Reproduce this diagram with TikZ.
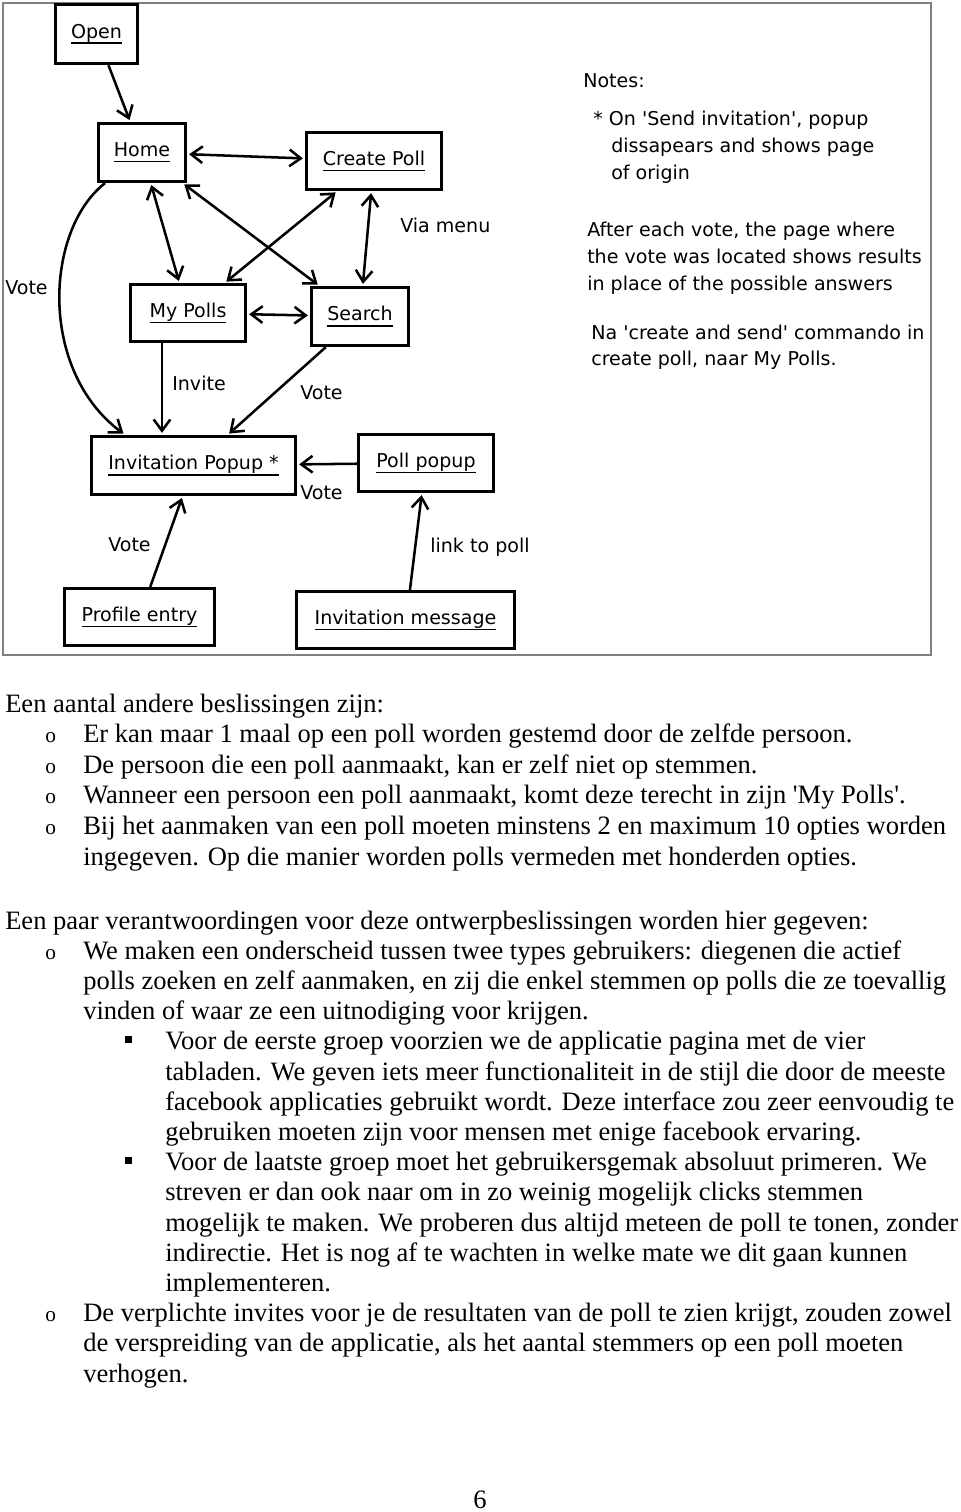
\documentclass[tikz,border=0pt]{standalone}
\usepackage{fontspec}
\setmainfont{Liberation Serif}
\newfontfamily\djv{DejaVu Sans}
\usetikzlibrary{arrows.meta,calc}
\newlength\ulwd
\newcommand\ulx[1]{\settowidth\ulwd{#1}\rlap{\rule[-4.3pt]{\ulwd}{1.1pt}}#1}
\tikzset{
  box/.style 2 args={draw, line width=2.4pt, inner sep=0pt,
    minimum width=#1*0.75pt, minimum height=#2*0.75pt,
    font=\djv\fontsize{14.3}{17}\selectfont},
  lbl/.style={inner sep=0pt, anchor=west, font=\djv\fontsize{14.3}{17}\selectfont},
  note/.style={inner sep=0pt, anchor=base west, font=\djv\fontsize{14.3}{17}\selectfont},
  tipb/.tip={Straight Barb[length=8.5pt,width=12.5pt]},
  arr/.style={line width=1.9pt, -tipb, shorten >=1.5pt},
  darr/.style={line width=1.9pt, tipb-tipb, shorten >=1.5pt, shorten <=1.5pt},
  body/.style={inner sep=0pt, anchor=base west, font=\fontsize{19.9}{22}\selectfont},
  bul/.style={inner sep=0pt, anchor=base west, font=\fontsize{16}{18}\selectfont},
  sq/.style={fill=black, inner sep=0pt, minimum width=5.2pt, minimum height=5.2pt}
}
\begin{document}
\begin{tikzpicture}[x=0.75pt,y=-0.75pt]
\useasboundingbox (0,0) rectangle (960,1512);
\fill[white] (0,0) rectangle (960,1512);
% frame
\node[draw=black!50, line width=0.9pt, inner sep=0pt, minimum width=928*0.75pt, minimum height=652*0.75pt] (frame) at (467,329) {};
% boxes
\node[box={82}{59}] (open) at (96.5,34) {\ulx{Open}};
\node[box={87}{58}] (home) at (142,152.5) {\ulx{Home}};
\node[box={135}{57}] (create) at (374,161) {\ulx{Create Poll}};
\node[box={115}{57}] (mypolls) at (188,313) {\ulx{My Polls}};
\node[box={97}{58}] (search) at (360,316.5) {\ulx{Search}};
\node[box={204}{58}] (invpop) at (193.5,465.5) {\ulx{Invitation Popup *}};
\node[box={135}{57}] (pollpop) at (426,463) {\ulx{Poll popup}};
\node[box={150}{57}] (profile) at (139.5,617) {\ulx{Profile entry}};
\node[box={218}{57}] (invmsg) at (405.5,620) {\ulx{Invitation message}};
% connectors
\draw[arr] (open) -- (home);
\draw[darr] (home) -- (create);
\draw[darr] (home) -- (mypolls);
\draw[darr] (home) -- (search);
\draw[darr] (create) -- (mypolls);
\draw[darr] (create) -- (search);
\draw[darr] (mypolls) -- (search);
\coordinate (mpS) at ($(mypolls.south west)!0.28!(mypolls.south east)$);
\draw[arr] (mpS) -- (mpS |- invpop.north);
\draw[arr] (search) -- (invpop);
\draw[arr] (pollpop) -- (invpop);
\draw[arr] (profile) -- (invpop);
\coordinate (imN) at ($(invmsg.north west)!0.52!(invmsg.north east)$);
\coordinate (ppS) at ($(pollpop.south west)!0.47!(pollpop.south east)$);
\draw[arr] (imN) -- (ppS);
\coordinate (hS) at ($(home.south west)!0.09!(home.south east)$);
\coordinate (ipN) at ($(invpop.north west)!0.17!(invpop.north east)$);
\draw[arr] (hS) .. controls (45,230) and (38,370) .. (ipN);
% labels
\node[lbl] (v1) at (5,288) {Vote};
\node[lbl] (via) at (400,225) {Via menu};
\node[lbl] (inv) at (172,383) {Invite};
\node[lbl] (v2) at (300,393) {Vote};
\node[lbl] (v3) at (300,493) {Vote};
\node[lbl] (v4) at (108,545) {Vote};
\node[lbl] (lk) at (430,547) {link to poll};
% notes
\node[note] (n1) at (583,87.3) {Notes:};
\node[note] (n2) at (593,126) {* On \textquotesingle Send invitation\textquotesingle, popup};
\node[note] (n3) at (611,153) {dissapears and shows page};
\node[note] (n4) at (611,180) {of origin};
\node[note] (n5) at (587,236.7) {After each vote, the page where};
\node[note] (n6) at (587,263.3) {the vote was located shows results};
\node[note] (n7) at (587,290) {in place of the possible answers};
\node[note] (n8) at (591,339) {Na \textquotesingle create and send\textquotesingle\ commando in};
\node[note] (n9) at (591,365.5) {create poll, naar My Polls.};
% body text block 1
\node[body] (l1) at (5,712) {Een aantal andere beslissingen zijn:};
\node[bul] (b1) at (45,742.6) {o};
\node[body] (l2) at (83,742.6) {Er kan maar 1 maal op een poll worden gestemd door de zelfde persoon.};
\node[bul] (b2) at (45,773.2) {o};
\node[body] (l3) at (83,773.2) {De persoon die een poll aanmaakt, kan er zelf niet op stemmen.};
\node[bul] (b3) at (45,803.8) {o};
\node[body] (l4) at (83,803.8) {Wanneer een persoon een poll aanmaakt, komt deze terecht in zijn \textquotesingle My Polls\textquotesingle.};
\node[bul] (b4) at (45,834.4) {o};
\node[body] (l5) at (83,834.4) {Bij het aanmaken van een poll moeten minstens 2 en maximum 10 opties worden};
\node[body] (l6) at (83,865) {ingegeven. Op die manier worden polls vermeden met honderden opties.};
% body text block 2
\node[body] (m1) at (5,929) {Een paar verantwoordingen voor deze ontwerpbeslissingen worden hier gegeven:};
\node[bul] (c1) at (45,959.2) {o};
\node[body] (m2) at (83,959.2) {We maken een onderscheid tussen twee types gebruikers: diegenen die actief};
\node[body] (m3) at (83,989.4) {polls zoeken en zelf aanmaken, en zij die enkel stemmen op polls die ze toevallig};
\node[body] (m4) at (83,1019.6) {vinden of waar ze een uitnodiging voor krijgen.};
\node[sq] (s1) at (128.5,1039.8) {};
\node[body] (m5) at (165,1049.8) {Voor de eerste groep voorzien we de applicatie pagina met de vier};
\node[body] (m6) at (165,1080) {tabladen. We geven iets meer functionaliteit in de stijl die door de meeste};
\node[body] (m7) at (165,1110.2) {facebook applicaties gebruikt wordt. Deze interface zou zeer eenvoudig te};
\node[body] (m8) at (165,1140.4) {gebruiken moeten zijn voor mensen met enige facebook ervaring.};
\node[sq] (s2) at (128.5,1160.6) {};
\node[body] (m9) at (165,1170.6) {Voor de laatste groep moet het gebruikersgemak absoluut primeren. We};
\node[body] (m10) at (165,1200.8) {streven er dan ook naar om in zo weinig mogelijk clicks stemmen};
\node[body] (m11) at (165,1231) {mogelijk te maken. We proberen dus altijd meteen de poll te tonen, zonder};
\node[body] (m12) at (165,1261.2) {indirectie. Het is nog af te wachten in welke mate we dit gaan kunnen};
\node[body] (m13) at (165,1291.4) {implementeren.};
\node[bul] (c2) at (45,1321.6) {o};
\node[body] (m14) at (83,1321.6) {De verplichte invites voor je de resultaten van de poll te zien krijgt, zouden zowel};
\node[body] (m15) at (83,1351.8) {de verspreiding van de applicatie, als het aantal stemmers op een poll moeten};
\node[body] (m16) at (83,1382) {verhogen.};
\node[inner sep=0pt, anchor=base, font=\fontsize{19.9}{22}\selectfont] (pg) at (480,1508) {6};
\end{tikzpicture}
\end{document}
